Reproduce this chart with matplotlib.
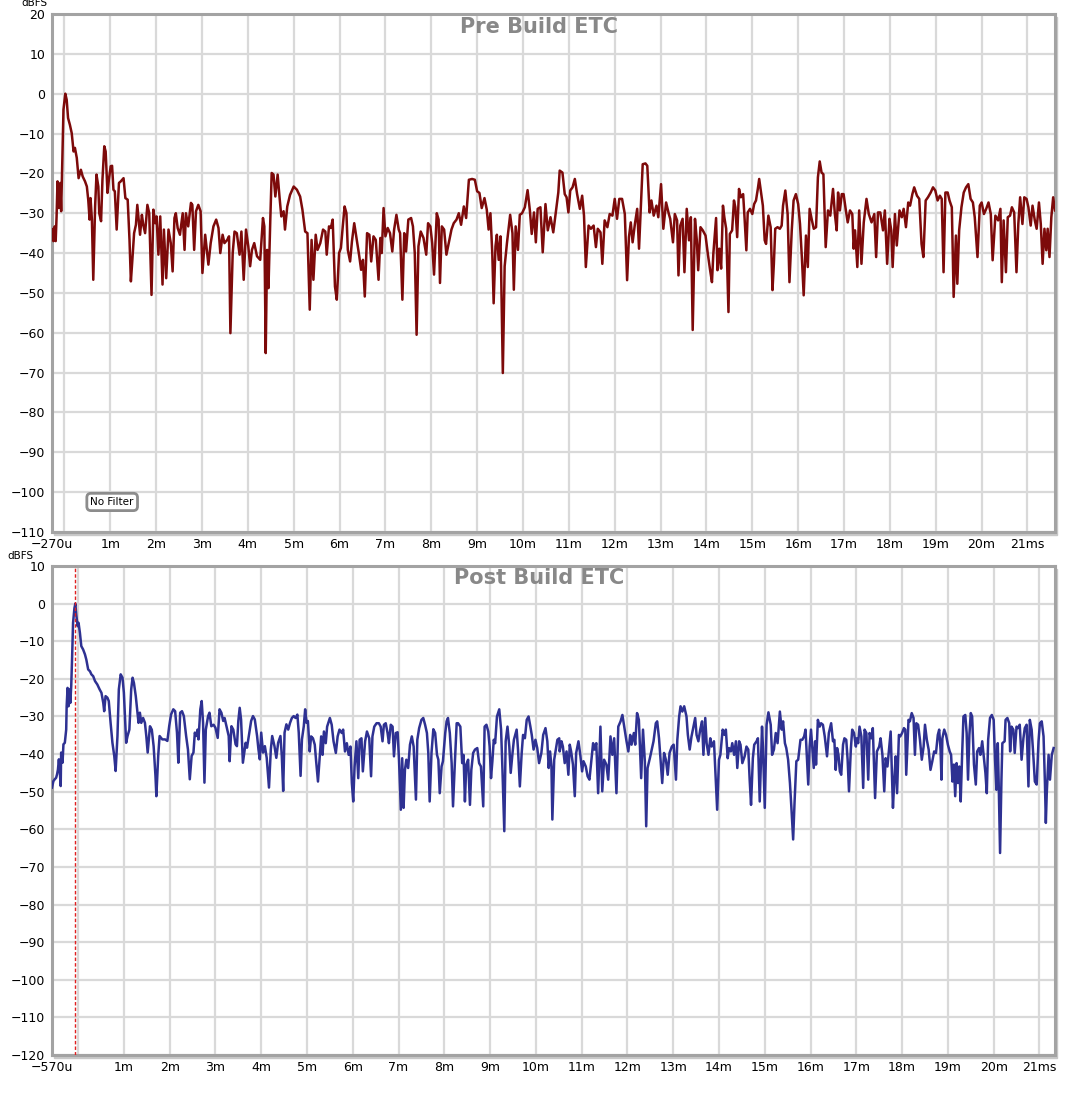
import matplotlib
matplotlib.use("Agg")
import matplotlib.pyplot as plt
from matplotlib.patches import Rectangle

# ── Data (time in ms, level in dBFS) ─────────────────────────────────────────
pre_trace = [
    (-0.27, -34), (-0.24, -37), (-0.21, -33.3), (-0.19, -37), (-0.17, -30.8), (-0.15, -22),
    (-0.12, -28.7), (-0.09, -22.4), (-0.07, -29.5), (-0.02, -4), (0.02, 0), (0.05, -1.5),
    (0.08, -6.1), (0.12, -7.8), (0.16, -9.9), (0.2, -14.5), (0.23, -13.6), (0.27, -16.1),
    (0.31, -21.2), (0.36, -19.1), (0.4, -20.8), (0.45, -22), (0.49, -23.3), (0.52, -26.6),
    (0.55, -31.6), (0.57, -26.2), (0.6, -31.6), (0.63, -46.7), (0.67, -28.3), (0.7, -20.3),
    (0.74, -23.3), (0.76, -30), (0.8, -32), (0.83, -21.6), (0.87, -13.2), (0.9, -14.5),
    (0.94, -24.9), (0.97, -21.6), (1.01, -18.2), (1.04, -18.1), (1.07, -24.1), (1.1, -24.5),
    (1.14, -34.1), (1.19, -22.4), (1.23, -22), (1.29, -21.2), (1.33, -26.2), (1.38, -26.6),
    (1.42, -36.7), (1.45, -47.1), (1.48, -42.1), (1.52, -35), (1.56, -32.9), (1.59, -27.9),
    (1.62, -31.6), (1.65, -35.4), (1.69, -30.4), (1.72, -32.9), (1.76, -35), (1.81, -27.9),
    (1.85, -30), (1.9, -50.5), (1.94, -29.1), (1.98, -32.5), (2.01, -30.8), (2.05, -40.4),
    (2.09, -30.8), (2.14, -47.9), (2.17, -34.1), (2.22, -46.3), (2.27, -34.1), (2.32, -37.5),
    (2.36, -44.6), (2.4, -31.2), (2.43, -30), (2.47, -33.7), (2.52, -35.4), (2.58, -30),
    (2.62, -39.2), (2.65, -30), (2.7, -33.3), (2.76, -27.4), (2.79, -27.9), (2.83, -39.2),
    (2.87, -29.5), (2.92, -27.9), (2.97, -29.5), (3.01, -45), (3.07, -35.4), (3.14, -42.9),
    (3.19, -37.5), (3.25, -33.3), (3.31, -31.6), (3.36, -33.7), (3.4, -40), (3.45, -35.4),
    (3.49, -37.5), (3.55, -36.7), (3.59, -35.8), (3.62, -60.1), (3.67, -40), (3.71, -34.6),
    (3.76, -35), (3.82, -40.4), (3.86, -34.6), (3.91, -46.7), (3.96, -34.1), (4.01, -38.3),
    (4.05, -43.3), (4.09, -39.2), (4.14, -37.5), (4.2, -40.8), (4.27, -41.7), (4.33, -31.2),
    (4.36, -33.3), (4.39, -65.1), (4.42, -39.2), (4.45, -48.8), (4.49, -31.6), (4.52, -19.9),
    (4.56, -20.3), (4.6, -25.8), (4.65, -20.3), (4.69, -25.8), (4.73, -30.8), (4.78, -29.5),
    (4.81, -34.1), (4.86, -28.3), (4.92, -25.4), (5.0, -23.3), (5.07, -24.1), (5.14, -25.8),
    (5.19, -29.1), (5.25, -34.6), (5.3, -35), (5.35, -54.2), (5.39, -36.7), (5.43, -46.7),
    (5.48, -35.4), (5.52, -39.2), (5.58, -37.5), (5.64, -34.1), (5.69, -34.6), (5.72, -40.4),
    (5.77, -33.3), (5.81, -33.7), (5.85, -31.6), (5.9, -48.4), (5.94, -51.7), (5.99, -40),
    (6.03, -38.7), (6.07, -33.3), (6.11, -28.3), (6.15, -30), (6.18, -39.2), (6.23, -42.1),
    (6.27, -37.1), (6.32, -32.5), (6.38, -37.1), (6.43, -40.8), (6.47, -44.2), (6.51, -41.7),
    (6.55, -50.9), (6.6, -35), (6.65, -35.4), (6.69, -42.1), (6.74, -35.8), (6.79, -36.7),
    (6.85, -46.7), (6.89, -36.2), (6.92, -40), (6.96, -28.7), (7.0, -35.8), (7.05, -33.7),
    (7.1, -35), (7.15, -39.6), (7.19, -34.1), (7.24, -30.4), (7.29, -34.1), (7.32, -35),
    (7.37, -51.7), (7.41, -35), (7.45, -39.6), (7.5, -31.6), (7.56, -31.2), (7.6, -33.3),
    (7.64, -40), (7.68, -60.5), (7.72, -38.3), (7.77, -34.6), (7.83, -36.2), (7.89, -40.4),
    (7.93, -32.5), (7.98, -33.3), (8.02, -37.5), (8.06, -45.4), (8.12, -30), (8.16, -31.6),
    (8.19, -47.5), (8.23, -33.3), (8.28, -34.1), (8.33, -40.4), (8.38, -37.5), (8.44, -34.1),
    (8.49, -32.5), (8.55, -31.6), (8.6, -30), (8.65, -32.9), (8.71, -28.3), (8.76, -31.2),
    (8.82, -21.6), (8.89, -21.4), (8.95, -21.6), (9.0, -24.5), (9.05, -24.9), (9.1, -28.7),
    (9.16, -26.2), (9.21, -29.1), (9.25, -34.1), (9.29, -30), (9.33, -40), (9.36, -52.6),
    (9.4, -38.3), (9.43, -35.4), (9.47, -41.7), (9.51, -35.8), (9.56, -70.1), (9.6, -43.3),
    (9.65, -37.5), (9.69, -33.3), (9.72, -30.4), (9.77, -35), (9.8, -49.2), (9.84, -33.3),
    (9.89, -39.2), (9.93, -30.4), (9.98, -30), (10.04, -28.5), (10.1, -24.2), (10.15, -29.3),
    (10.19, -35.2), (10.24, -29.8), (10.28, -37.3), (10.32, -28.9), (10.38, -28.5), (10.43, -39.8),
    (10.49, -27.7), (10.54, -34.3), (10.6, -31), (10.66, -34.8), (10.71, -30.2), (10.77, -24.8),
    (10.8, -19.3), (10.86, -19.8), (10.91, -25.2), (10.95, -26), (10.99, -29.8), (11.03, -24.3),
    (11.08, -23.5), (11.13, -21.4), (11.18, -25.2), (11.24, -28.9), (11.29, -25.6), (11.33, -30.6),
    (11.37, -43.5), (11.43, -33.1), (11.48, -33.9), (11.54, -33.1), (11.59, -38.5), (11.63, -33.9),
    (11.69, -34.8), (11.73, -42.7), (11.78, -31.8), (11.84, -33.5), (11.89, -30.2), (11.95, -30.6),
    (12.0, -26.4), (12.05, -31.4), (12.1, -26.4), (12.16, -26.4), (12.22, -30.2), (12.27, -46.8),
    (12.31, -36), (12.35, -32.3), (12.39, -37.3), (12.44, -32.7), (12.49, -28.9), (12.53, -38.9),
    (12.58, -26), (12.61, -17.7), (12.67, -17.5), (12.71, -18.1), (12.76, -29.8), (12.8, -26.8),
    (12.85, -30.6), (12.91, -28.1), (12.95, -31), (13.01, -22.7), (13.06, -33.9), (13.12, -27.3),
    (13.18, -30.2), (13.21, -31.4), (13.27, -37.3), (13.31, -30.2), (13.36, -31.8), (13.39, -45.6),
    (13.43, -33.1), (13.48, -31.4), (13.52, -44.8), (13.57, -28.9), (13.62, -36.8), (13.66, -31),
    (13.7, -59.3), (13.75, -31.4), (13.79, -36.8), (13.82, -44.3), (13.87, -33.5), (13.92, -34.3),
    (13.98, -35.6), (14.03, -40.2), (14.08, -44.3), (14.12, -47.3), (14.15, -40.2), (14.21, -31.2),
    (14.24, -44.3), (14.28, -38.9), (14.32, -43.9), (14.36, -28.1), (14.39, -31), (14.43, -33.9),
    (14.48, -54.8), (14.51, -35.2), (14.56, -34.3), (14.6, -26.8), (14.63, -28.5), (14.67, -36),
    (14.71, -23.9), (14.75, -26), (14.8, -25.2), (14.83, -31), (14.87, -39.3), (14.9, -29.8),
    (14.95, -28.9), (15.0, -30.2), (15.04, -27.7), (15.08, -26.8), (15.12, -23.9), (15.15, -21.4),
    (15.19, -24.8), (15.23, -28.1), (15.27, -36.8), (15.3, -37.7), (15.35, -30.6), (15.4, -33.5),
    (15.44, -49.3), (15.47, -42.7), (15.5, -33.9), (15.55, -33.5), (15.6, -33.9), (15.64, -33.1),
    (15.67, -28.1), (15.72, -24.3), (15.77, -30.2), (15.81, -47.3), (15.86, -34.3), (15.9, -26.8),
    (15.95, -25.2), (16.0, -27.7), (16.04, -32.7), (16.08, -41), (16.12, -50.6), (16.17, -35.6),
    (16.21, -43.5), (16.25, -28.9), (16.3, -31.8), (16.34, -33.9), (16.39, -33.5), (16.43, -21),
    (16.47, -17), (16.51, -19.8), (16.55, -20.2), (16.6, -38.5), (16.65, -29.3), (16.7, -30.6),
    (16.76, -23.9), (16.8, -30.2), (16.84, -34.3), (16.87, -24.8), (16.91, -29.3), (16.95, -25.2),
    (16.99, -25.2), (17.04, -29.3), (17.08, -32.3), (17.13, -29.3), (17.18, -30.2), (17.21, -38.9),
    (17.24, -34.3), (17.29, -43.5), (17.33, -29.3), (17.38, -42.7), (17.43, -32.3), (17.49, -26.4),
    (17.54, -30.2), (17.6, -32.3), (17.66, -30.2), (17.7, -41), (17.74, -29.8), (17.79, -29.8),
    (17.85, -34.3), (17.89, -29.3), (17.94, -42.7), (17.99, -31.4), (18.03, -34.3), (18.06, -43.5),
    (18.11, -30.2), (18.15, -38.1), (18.21, -29.3), (18.26, -31), (18.3, -28.9), (18.35, -33.5),
    (18.4, -27.3), (18.44, -28.1), (18.49, -25.2), (18.53, -23.5), (18.59, -25.6), (18.64, -26.4),
    (18.69, -37.7), (18.73, -41), (18.78, -26.8), (18.83, -26), (18.89, -24.8), (18.94, -23.5),
    (18.99, -24.3), (19.04, -26.8), (19.09, -25.6), (19.13, -26.4), (19.17, -44.8), (19.21, -24.8),
    (19.26, -24.8), (19.3, -26.8), (19.35, -28.5), (19.39, -51), (19.44, -35.6), (19.47, -47.7),
    (19.51, -34.3), (19.56, -28.5), (19.61, -24.8), (19.66, -23.5), (19.71, -22.7), (19.76, -26.4),
    (19.81, -27.3), (19.85, -31), (19.91, -41), (19.96, -28.1), (20.0, -27.3), (20.05, -30.2),
    (20.1, -28.9), (20.15, -27.3), (20.2, -30.2), (20.24, -41.8), (20.3, -30.6), (20.36, -31.8),
    (20.41, -28.9), (20.44, -47.3), (20.48, -31.8), (20.53, -44.8), (20.57, -31), (20.62, -30.6),
    (20.66, -28.5), (20.71, -29.8), (20.76, -44.8), (20.8, -32.7), (20.84, -26), (20.89, -32.7),
    (20.93, -26), (20.98, -26.4), (21.02, -28.5), (21.07, -33.1), (21.11, -28.1), (21.16, -31.8),
    (21.2, -33.9), (21.25, -27.3), (21.29, -32.7), (21.33, -42.7), (21.37, -33.9), (21.41, -39.3),
    (21.44, -33.9), (21.48, -41), (21.52, -31), (21.56, -26), (21.6, -29.3),
]

post_trace = [
    (-0.57, -48.9), (-0.54, -47.2), (-0.51, -46.7), (-0.48, -46.3), (-0.46, -45.4), (-0.44, -44.1),
    (-0.42, -41.4), (-0.4, -44.5), (-0.38, -48.5), (-0.37, -39.6), (-0.34, -42.3), (-0.32, -37.4),
    (-0.29, -37), (-0.26, -33.5), (-0.25, -27.3), (-0.23, -22.4), (-0.21, -27.3), (-0.19, -22.8),
    (-0.17, -26.4), (-0.15, -21.9), (-0.13, -14), (-0.11, -5.1), (-0.08, -1.2), (-0.06, 0),
    (-0.04, -2.9), (-0.01, -6), (0.01, -5.1), (0.04, -7.8), (0.07, -11.3), (0.11, -12.2),
    (0.15, -13.5), (0.18, -14.9), (0.22, -17.5), (0.26, -18), (0.29, -18.8), (0.33, -19.3),
    (0.37, -20.6), (0.42, -21.5), (0.47, -22.8), (0.51, -23.7), (0.55, -26.4), (0.57, -28.6),
    (0.6, -24.6), (0.64, -25), (0.67, -25.9), (0.71, -31.7), (0.75, -37), (0.79, -40.5),
    (0.82, -44.5), (0.86, -35.2), (0.89, -22.8), (0.93, -18.8), (0.97, -19.7), (1.0, -23.7),
    (1.02, -29), (1.05, -37), (1.08, -35.2), (1.12, -33.5), (1.16, -22.8), (1.19, -19.7),
    (1.22, -21.1), (1.26, -24.6), (1.29, -28.1), (1.32, -31.7), (1.35, -29), (1.38, -31.7),
    (1.42, -30.4), (1.46, -31.7), (1.49, -35.2), (1.52, -39.6), (1.57, -32.6), (1.61, -33.5),
    (1.65, -37.9), (1.69, -45.8), (1.71, -51.2), (1.75, -40.5), (1.78, -35.2), (1.84, -36.1),
    (1.9, -36.1), (1.95, -36.5), (1.99, -32.6), (2.03, -29.5), (2.08, -28.1), (2.12, -28.6),
    (2.16, -34.3), (2.19, -42.3), (2.23, -29), (2.27, -28.6), (2.31, -29.9), (2.36, -35.2),
    (2.4, -38.8), (2.44, -46.7), (2.48, -40.5), (2.52, -39.6), (2.55, -34.3), (2.58, -35.2),
    (2.61, -33.5), (2.63, -36.1), (2.67, -28.1), (2.7, -25.9), (2.73, -31.7), (2.76, -47.6),
    (2.79, -33.5), (2.84, -29.9), (2.87, -29), (2.91, -32.6), (2.96, -32.2), (3.0, -33),
    (3.05, -35.7), (3.09, -28.1), (3.13, -29), (3.17, -31.2), (3.2, -30.4), (3.25, -33),
    (3.29, -35.2), (3.31, -41.9), (3.35, -32.6), (3.39, -33.5), (3.44, -37.4), (3.47, -37.9),
    (3.5, -31.2), (3.53, -27.7), (3.56, -30.8), (3.6, -42.3), (3.63, -39.6), (3.66, -37),
    (3.69, -38.3), (3.73, -35.2), (3.78, -31.2), (3.82, -29.9), (3.86, -30.8), (3.91, -35.2),
    (3.94, -38.8), (3.97, -41.4), (4.0, -34.3), (4.04, -39.6), (4.08, -37.9), (4.12, -41),
    (4.17, -48.9), (4.21, -38.8), (4.24, -35.2), (4.29, -37.9), (4.33, -41), (4.37, -37),
    (4.42, -35.2), (4.45, -40.5), (4.48, -49.8), (4.51, -34.3), (4.55, -32.1), (4.59, -33.5),
    (4.63, -31.7), (4.67, -30.4), (4.71, -29.9), (4.75, -30.4), (4.79, -29.5), (4.82, -34.3),
    (4.86, -45.8), (4.89, -36.1), (4.93, -32.6), (4.96, -28.1), (4.99, -31.7), (5.02, -31.2),
    (5.06, -39.3), (5.09, -35.3), (5.13, -35.8), (5.17, -37.5), (5.2, -41.9), (5.24, -47.3),
    (5.28, -40.6), (5.31, -35.3), (5.34, -40.2), (5.37, -34), (5.41, -37.1), (5.44, -32.7),
    (5.5, -30.4), (5.54, -32.2), (5.58, -36.6), (5.63, -39.7), (5.67, -35.3), (5.71, -33.5),
    (5.76, -34.4), (5.79, -33.5), (5.83, -39.3), (5.87, -37.1), (5.91, -40.2), (5.95, -38),
    (5.98, -47.7), (6.01, -52.6), (6.04, -43.3), (6.08, -36.6), (6.12, -46.4), (6.15, -36.2),
    (6.19, -35.8), (6.22, -44.6), (6.27, -36.6), (6.31, -34), (6.36, -35.8), (6.4, -45.9),
    (6.43, -35.3), (6.47, -32.7), (6.52, -31.8), (6.57, -31.8), (6.61, -32.7), (6.65, -36.6),
    (6.68, -32.2), (6.72, -31.8), (6.76, -34.4), (6.79, -37.1), (6.83, -32.2), (6.87, -32.7),
    (6.9, -40.6), (6.94, -34.4), (6.98, -34.2), (7.01, -41.5), (7.05, -54.8), (7.08, -41.1),
    (7.11, -54.3), (7.14, -44.2), (7.17, -41.5), (7.21, -43.7), (7.25, -37.5), (7.29, -35.3),
    (7.33, -38), (7.38, -52.1), (7.41, -36.2), (7.45, -33.1), (7.5, -30.9), (7.54, -30.4),
    (7.58, -32.2), (7.62, -34.4), (7.65, -39.7), (7.68, -52.6), (7.72, -39.7), (7.76, -33.4),
    (7.8, -34.4), (7.84, -40.2), (7.87, -41.5), (7.9, -50.4), (7.94, -43.3), (7.97, -41.9),
    (8.02, -34.4), (8.05, -31.3), (8.08, -30.4), (8.12, -34.4), (8.16, -42.4), (8.19, -53.9),
    (8.23, -42.4), (8.27, -31.8), (8.3, -31.8), (8.35, -32.7), (8.39, -42.4), (8.42, -40.2),
    (8.45, -52.6), (8.48, -42.8), (8.52, -41.5), (8.56, -53.5), (8.59, -44.2), (8.63, -39.7),
    (8.67, -38.8), (8.72, -38.4), (8.76, -42.4), (8.8, -43.3), (8.85, -53.9), (8.88, -32.7),
    (8.92, -32.2), (8.96, -34), (8.99, -38), (9.02, -46.4), (9.05, -41.9), (9.08, -36.2),
    (9.11, -37.1), (9.15, -30), (9.2, -28.1), (9.24, -33.5), (9.27, -44.2), (9.31, -60.5),
    (9.34, -36.6), (9.38, -32.7), (9.42, -38), (9.45, -45), (9.49, -39.7), (9.52, -36.2),
    (9.58, -33.5), (9.61, -38.8), (9.65, -48.6), (9.69, -39.7), (9.72, -34.9), (9.76, -35.8),
    (9.8, -30.9), (9.84, -30), (9.88, -32.7), (9.91, -34.9), (9.95, -38.8), (9.99, -36.2),
    (10.03, -38.4), (10.07, -42.4), (10.12, -39.7), (10.16, -34.9), (10.21, -33.1), (10.25, -36.6),
    (10.28, -43.7), (10.31, -39.3), (10.34, -43.3), (10.36, -57.4), (10.4, -41.5), (10.43, -39.3),
    (10.47, -36.2), (10.51, -35.8), (10.52, -39.3), (10.56, -36.6), (10.59, -38), (10.63, -42.4),
    (10.67, -39.3), (10.71, -45.5), (10.74, -37.5), (10.77, -39.3), (10.81, -42.8), (10.85, -51.2),
    (10.88, -39.7), (10.93, -36.6), (10.97, -40.2), (11.01, -44.6), (11.04, -41.9), (11.09, -43.3),
    (11.13, -45.9), (11.17, -46.8), (11.21, -41.9), (11.25, -37.1), (11.28, -38.8), (11.32, -37.1),
    (11.36, -50.4), (11.41, -32.7), (11.45, -49.9), (11.49, -41.5), (11.54, -42.8), (11.58, -46.8),
    (11.63, -35.3), (11.67, -40.2), (11.71, -35.8), (11.76, -50.4), (11.8, -32.7), (11.85, -31.3),
    (11.89, -29.6), (11.93, -32.7), (11.98, -36.6), (12.02, -39.3), (12.06, -34.9), (12.09, -37.5),
    (12.14, -34.4), (12.17, -37.5), (12.21, -29.1), (12.25, -30.9), (12.3, -46.4), (12.34, -33.5),
    (12.38, -41.9), (12.41, -59.2), (12.44, -43.7), (12.49, -41.1), (12.53, -38.8), (12.57, -36.6),
    (12.62, -31.8), (12.65, -31.3), (12.69, -35.8), (12.73, -42.8), (12.76, -47.7), (12.8, -39.7),
    (12.84, -41.5), (12.88, -45.5), (12.92, -39.7), (12.97, -38), (13.01, -37.5), (13.06, -46.8),
    (13.09, -36.2), (13.13, -30), (13.16, -27.3), (13.2, -28.7), (13.24, -27.3), (13.29, -30),
    (13.32, -34.9), (13.36, -38.8), (13.4, -35.3), (13.43, -33.5), (13.48, -30.4), (13.51, -34.9),
    (13.55, -36.6), (13.59, -33.5), (13.63, -31.3), (13.66, -40.2), (13.7, -30.4), (13.73, -37.1),
    (13.77, -40.2), (13.81, -35.8), (13.84, -38), (13.89, -36.6), (13.92, -44.2), (13.96, -54.8),
    (14.0, -41.5), (14.03, -40.2), (14.08, -33.5), (14.12, -34.9), (14.15, -33.5), (14.19, -41.1),
    (14.22, -38.4), (14.26, -39.3), (14.29, -37.1), (14.33, -40.2), (14.37, -36.6), (14.4, -43.7),
    (14.44, -36.6), (14.47, -37.5), (14.51, -42.4), (14.56, -40.6), (14.6, -38), (14.64, -38.8),
    (14.67, -46.8), (14.7, -53.5), (14.74, -41.1), (14.77, -37.5), (14.82, -36.6), (14.85, -35.8),
    (14.89, -52.6), (14.94, -32.7), (14.96, -38), (15.0, -54.3), (15.04, -32.2), (15.08, -28.9),
    (15.13, -32.2), (15.16, -40.2), (15.2, -38.8), (15.24, -34.4), (15.28, -37.1), (15.33, -28.7),
    (15.37, -33.5), (15.4, -31.3), (15.44, -37.1), (15.47, -38.4), (15.51, -41.5), (15.55, -47.7),
    (15.58, -53.9), (15.62, -62.7), (15.65, -53), (15.69, -41.9), (15.73, -41.5), (15.78, -36.2),
    (15.82, -36.2), (15.86, -35.3), (15.89, -33.5), (15.92, -40.6), (15.95, -48.1), (15.98, -38),
    (16.01, -33.5), (16.04, -38.8), (16.07, -43.7), (16.1, -36.6), (16.12, -42.8), (16.16, -30.9),
    (16.2, -32.7), (16.23, -31.8), (16.27, -32.2), (16.31, -35.3), (16.36, -40.6), (16.4, -34.4),
    (16.45, -31.8), (16.49, -36.6), (16.52, -36.2), (16.55, -44.2), (16.58, -38.4), (16.61, -40.2),
    (16.64, -44.6), (16.67, -45.5), (16.71, -37.5), (16.74, -35.8), (16.78, -36.2), (16.81, -41.5),
    (16.84, -49.9), (16.88, -38.8), (16.91, -33.5), (16.95, -34.4), (16.99, -38), (17.01, -35.8),
    (17.04, -37.1), (17.07, -32.7), (17.11, -35.3), (17.15, -49), (17.18, -33.5), (17.22, -34.4),
    (17.26, -46.8), (17.29, -34.4), (17.33, -35.8), (17.36, -33.1), (17.41, -51.7), (17.45, -39.3),
    (17.5, -38), (17.53, -35.8), (17.57, -40.2), (17.61, -49.9), (17.64, -41.1), (17.68, -43.3),
    (17.72, -38), (17.75, -34), (17.78, -45.9), (17.8, -54.3), (17.83, -46.8), (17.86, -40.6),
    (17.89, -50.4), (17.93, -34.9), (17.96, -35.3), (18.0, -34.4), (18.04, -33.1), (18.07, -33.5),
    (18.09, -45.5), (18.14, -30.9), (18.17, -31.3), (18.21, -29.1), (18.25, -30.4), (18.28, -40.2),
    (18.31, -31.8), (18.35, -32.2), (18.39, -36.2), (18.43, -41.5), (18.47, -38), (18.5, -32.2),
    (18.54, -36.2), (18.58, -38.8), (18.62, -44.2), (18.66, -41.9), (18.7, -39.3), (18.74, -39.7),
    (18.78, -34.9), (18.81, -33.5), (18.84, -38.8), (18.86, -46.8), (18.88, -35.8), (18.92, -33.5),
    (18.96, -34.9), (19.0, -37.5), (19.04, -39.3), (19.07, -40.2), (19.1, -47.3), (19.13, -42.8),
    (19.16, -51.2), (19.19, -42.4), (19.22, -47.7), (19.25, -43.3), (19.28, -52.6), (19.31, -40.6),
    (19.34, -30), (19.38, -29.6), (19.41, -34.4), (19.44, -46.8), (19.47, -34.9), (19.5, -29.1),
    (19.53, -30), (19.57, -42.8), (19.61, -48.1), (19.64, -39.3), (19.68, -38.4), (19.71, -40.2),
    (19.75, -36.6), (19.79, -41.5), (19.82, -45), (19.85, -50.4), (19.88, -36.2), (19.92, -30.4),
    (19.96, -29.6), (20.0, -30.9), (20.03, -41.5), (20.06, -49.5), (20.09, -37.1), (20.11, -47.7),
    (20.14, -66.3), (20.17, -46.8), (20.19, -37.1), (20.24, -36.6), (20.26, -30.9), (20.3, -30.4),
    (20.34, -31.8), (20.36, -39.3), (20.39, -32.7), (20.43, -33.5), (20.46, -39.7), (20.5, -32.7),
    (20.53, -33.1), (20.57, -32.2), (20.61, -41.5), (20.65, -35.8), (20.68, -33.1), (20.72, -32.2),
    (20.76, -48.6), (20.79, -30.9), (20.83, -33.5), (20.87, -41.1), (20.9, -47.3), (20.94, -48.1),
    (20.98, -36.6), (21.01, -31.8), (21.05, -31.3), (21.09, -35.3), (21.12, -47.7), (21.14, -58.3),
    (21.16, -50.4), (21.2, -40.2), (21.23, -46.8), (21.27, -40.2), (21.31, -38.4),
]

pre_ms, pre_db = zip(*pre_trace)
post_ms, post_db = zip(*post_trace)

pre_xlim = (-0.27, 21.6)
post_xlim = (-0.57, 21.34)
pre_yticks = list(range(20, -111, -10))
post_yticks = list(range(10, -121, -10))
tick_ms = list(range(1, 22))
tick_lbl = [f"{m}m" for m in range(1, 21)] + ["21ms"]
peak_ms = -0.06

PRE_COLOR = "#7d0a0a"
POST_COLOR = "#2e3192"
GRID = "#d9d9d9"
FRAME = "#a3a3a3"

# ── Figure ──────────────────────────────────────────────────────────────────
fig = plt.figure(figsize=(10.8, 11.04), dpi=100)
ax1 = fig.add_axes([52 / 1080, 1 - 532 / 1104, 1003 / 1080, 518 / 1104])
ax2 = fig.add_axes([52 / 1080, 1 - 1055 / 1104, 1003 / 1080, 489 / 1104])


def style(ax, xlim, yticks, first_lbl, title):
    # drop shadow behind the frame
    bb = ax.get_position()
    fig.patches.append(Rectangle((bb.x0 + 0.002, bb.y0 - 0.003), bb.width, bb.height,
                                 transform=fig.transFigure, color="#c8c8c8",
                                 zorder=-5))
    ax.set_xlim(*xlim)
    ax.set_ylim(yticks[-1], yticks[0])
    ax.set_yticks(yticks)
    ax.set_xticks([xlim[0]] + tick_ms)
    ax.set_xticklabels([first_lbl] + tick_lbl)
    ax.set_xticks([0], minor=True)
    ax.grid(True, which="both", color=GRID, lw=1.6)
    ax.set_axisbelow(True)
    ax.tick_params(which="both", length=0, labelsize=9, pad=4)
    ax.tick_params(axis="y", pad=5)
    for s in ax.spines.values():
        s.set_color(FRAME)
        s.set_linewidth(2.2)
    ax.text(0.486, 0.995, title, transform=ax.transAxes, ha="center", va="top",
            fontsize=15, fontweight="bold", color="#888888")


style(ax1, pre_xlim, pre_yticks, "\u2212270u", "Pre Build ETC")
style(ax2, post_xlim, post_yticks, "\u2212570u", "Post Build ETC")

ax1.plot(pre_ms, pre_db, color=PRE_COLOR, lw=1.8, zorder=3)
ax2.plot(post_ms, post_db, color=POST_COLOR, lw=1.8, zorder=3)
ax2.axvline(peak_ms, color="#e02020", lw=1.0, ls=(0, (2.5, 1.5)), zorder=4)

ax1.text(0.06, 0.058, "No Filter", transform=ax1.transAxes, ha="center", va="center",
         fontsize=7.5, color="black",
         bbox=dict(boxstyle="round,pad=0.35,rounding_size=0.4", fc="white",
                   ec="#8c8c8c", lw=2))

fig.text(48 / 1080, 1 + 2 / 1104, "dBFS", ha="right", va="top", fontsize=7.5)
fig.text(33 / 1080, 1 - 559 / 1104, "dBFS", ha="right", va="baseline", fontsize=7.5)

fig.savefig("out.png", dpi=100)
plt.close()
